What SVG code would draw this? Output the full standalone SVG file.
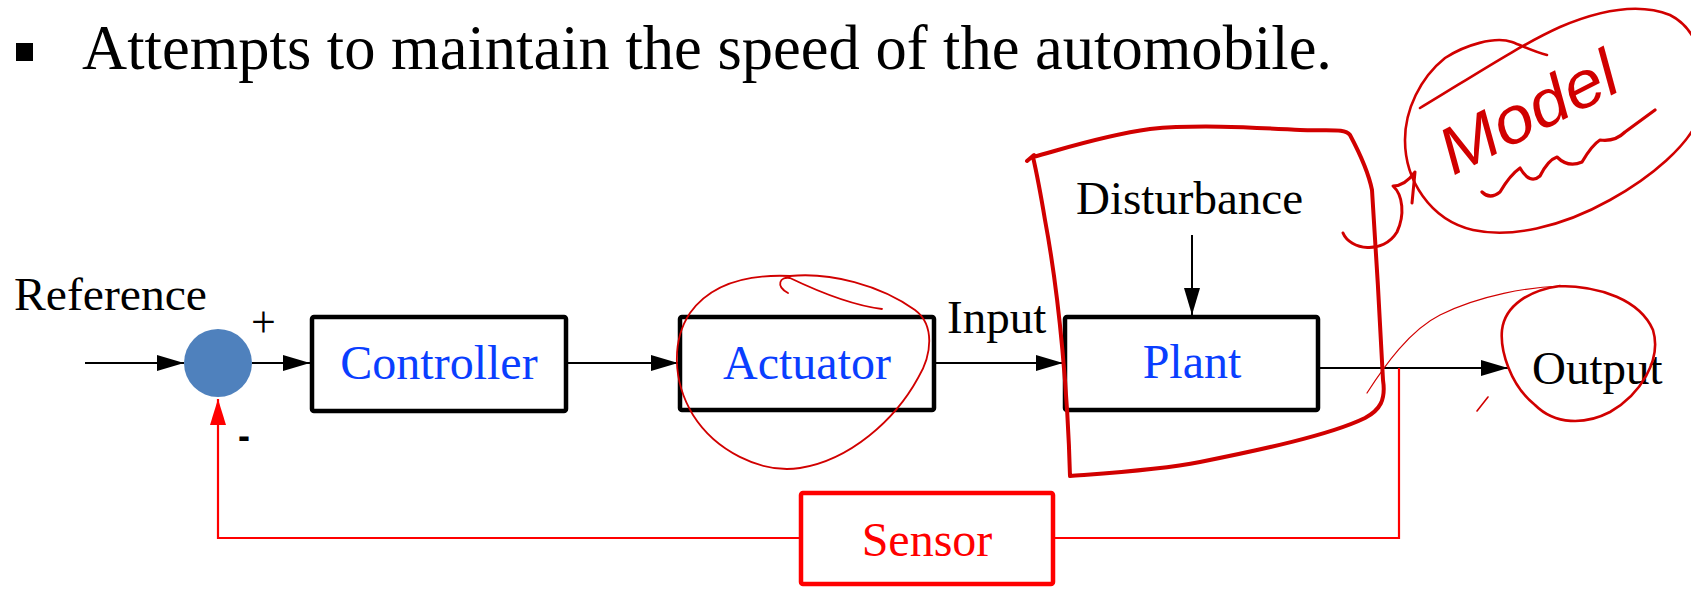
<svg xmlns="http://www.w3.org/2000/svg" width="1691" height="589" viewBox="0 0 1691 589">
<style>
.lbl{font-family:"Liberation Serif","Times New Roman",serif;font-size:47px;fill:#000}
.bt{font-family:"Liberation Serif","Times New Roman",serif;font-size:48px;fill:#0A3EFF;text-anchor:middle}
.box{fill:#fff;stroke:#000;stroke-width:4.5}
.ln{stroke:#000;stroke-width:2;fill:none}
.rl{stroke:#FF0000;stroke-width:2.2;fill:none}
.ink{stroke:#D10000;fill:none;stroke-linecap:round;stroke-linejoin:round}
</style>
<defs>
<marker id="ah" markerUnits="userSpaceOnUse" markerWidth="27" markerHeight="16" refX="27" refY="8" orient="auto">
<path d="M0,0 L27,8 L0,16 Z" fill="#000"/>
</marker>
<marker id="ahr" markerUnits="userSpaceOnUse" markerWidth="26" markerHeight="16" refX="26" refY="8" orient="auto">
<path d="M0,0 L26,8 L0,16 Z" fill="#FF0000"/>
</marker>
</defs>
<rect width="1691" height="589" fill="#fff"/>

<g id="title">
<rect x="16" y="43" width="17" height="18" fill="#000"/>
<text x="82" y="69" font-family="'Liberation Serif','Times New Roman',serif" font-size="64" textLength="1250" lengthAdjust="spacingAndGlyphs" fill="#000">Attempts to maintain the speed of the automobile.</text>
</g>

<g id="connectors">
<line class="ln" x1="85" y1="363" x2="184" y2="363" marker-end="url(#ah)"/>
<line class="ln" x1="252" y1="363" x2="310" y2="363" marker-end="url(#ah)"/>
<line class="ln" x1="568" y1="363" x2="678" y2="363" marker-end="url(#ah)"/>
<line class="ln" x1="936" y1="363" x2="1063" y2="363" marker-end="url(#ah)"/>
<line class="ln" x1="1192" y1="235" x2="1192" y2="315" marker-end="url(#ah)"/>
<line class="ln" x1="1320" y1="368" x2="1508" y2="368" marker-end="url(#ah)"/>
<polyline class="rl" points="1399,368 1399,538 1055,538"/>
<polyline class="rl" points="799,538 218,538 218,399" marker-end="url(#ahr)"/>
</g>

<g id="reference"><text class="lbl" x="14" y="310" textLength="193" lengthAdjust="spacingAndGlyphs">Reference</text></g>

<g id="sum">
<circle cx="218" cy="363" r="34" fill="#4F81BD"/>
<text x="251" y="337" font-family="'Liberation Serif','Times New Roman',serif" font-size="44" fill="#000">+</text>
<text x="238" y="448" font-family="'Liberation Sans',Arial,sans-serif" font-size="36" font-weight="bold" fill="#000">-</text>
</g>

<g id="controller">
<rect class="box" x="312" y="317" width="254" height="94" rx="2"/>
<text class="bt" x="439" y="379">Controller</text>
</g>

<g id="actuator">
<rect class="box" x="680" y="317" width="254" height="93" rx="2"/>
<text class="bt" x="807" y="379">Actuator</text>
</g>

<g id="input"><text class="lbl" x="947" y="333">Input</text></g>

<g id="plant">
<rect class="box" x="1065" y="317" width="253" height="93" rx="2"/>
<text class="bt" x="1192" y="378">Plant</text>
</g>

<g id="disturbance"><text class="lbl" x="1076" y="214">Disturbance</text></g>

<g id="output"><text class="lbl" x="1532" y="384">Output</text></g>

<g id="sensor">
<rect x="801" y="493" width="252" height="91" rx="2" fill="#fff" stroke="#FF0000" stroke-width="4.5"/>
<text x="927" y="556" font-family="'Liberation Serif','Times New Roman',serif" font-size="48" fill="#FF0000" text-anchor="middle">Sensor</text>
</g>

<g id="annotations">
<path class="ink" stroke-width="1.8" d="M882,309 C850,305 815,290 790,278 C780,276 775,286 788,293"/>
<path class="ink" stroke-width="1.8" d="M790,276 C830,272 880,285 915,310 C935,325 932,355 918,378 C895,420 850,460 800,468 C760,474 715,450 693,415 C672,380 672,340 690,313 C710,285 745,274 790,276"/>
<path class="ink" stroke-width="4" d="M1027,161 L1034,155 M1033,157 C1060,150 1100,136 1150,129 C1200,124 1260,128 1300,130 C1330,131 1345,128 1350,135 C1358,150 1368,170 1372,190 C1376,250 1380,320 1383,380 C1386,400 1380,410 1365,418 C1330,435 1260,450 1200,462 C1160,470 1110,473 1070,476 C1068,400 1060,300 1045,220 C1040,190 1036,170 1033,157"/>
<path class="ink" stroke-width="1.2" d="M1367,393 C1385,365 1410,330 1440,315 C1480,295 1530,287 1560,286"/>
<path class="ink" stroke-width="2.6" d="M1560,286 C1600,286 1640,300 1653,330 C1662,360 1640,395 1610,412 C1585,425 1555,425 1535,405 C1510,385 1500,350 1502,330 C1505,305 1530,290 1560,286"/>
<path class="ink" stroke-width="1.6" d="M1477,411 L1488,397"/>
<path class="ink" stroke-width="2.6" d="M1547,55 C1535,52 1525,47 1512,42 C1495,36 1465,45 1445,58 C1420,78 1405,110 1405,140 C1405,180 1430,220 1473,230 C1510,238 1560,228 1610,200 C1650,178 1690,145 1700,115 C1712,75 1700,30 1670,15 C1640,3 1600,10 1560,27 C1520,45 1470,78 1420,108"/>
<path class="ink" stroke-width="3" d="M1343,233 C1350,250 1383,255 1397,232 C1405,215 1403,195 1393,186 C1400,186 1407,183 1415,172 M1415,172 L1412,203"/>
<path class="ink" stroke-width="3.2" d="M1482,192 Q1490,200 1500,192 Q1510,175 1520,168 Q1530,185 1540,176 Q1548,160 1557,157 Q1568,168 1582,162 Q1592,145 1600,140 Q1615,142 1625,132 L1655,110"/>
<text x="1453" y="176" transform="rotate(-27 1453 176)" font-family="'Liberation Sans',Arial,sans-serif" font-style="italic" font-size="66" textLength="192" lengthAdjust="spacingAndGlyphs" fill="#D10000">Model</text>
</g>
</svg>
